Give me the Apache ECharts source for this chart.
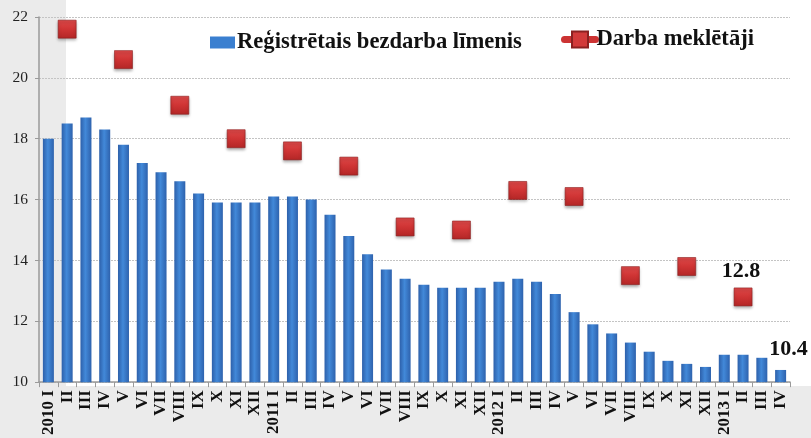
<!DOCTYPE html>
<html>
<head>
<meta charset="utf-8">
<title>Bezdarbs</title>
<script src="https://cdn.jsdelivr.net/npm/echarts@6/dist/echarts.min.js"></script>
<style>
	html, body { margin: 0; padding: 0; background: #fff; }
	#container { width: 811px; height: 438px; }
</style>
</head>
<body>
<div id="container"></div>
<script>
var categories = ['2010 I', 'II', 'III', 'IV', 'V', 'VI', 'VII', 'VIII', 'IX', 'X', 'XI', 'XII',
	'2011 I', 'II', 'III', 'IV', 'V', 'VI', 'VII', 'VIII', 'IX', 'X', 'XI', 'XII',
	'2012 I', 'II', 'III', 'IV', 'V', 'VI', 'VII', 'VIII', 'IX', 'X', 'XI', 'XII',
	'2013 I', 'II', 'III', 'IV'];
// registretais bezdarba limenis, %
var bezdarbs = [18.0, 18.5, 18.7, 18.3, 17.8, 17.2, 16.9, 16.6, 16.2, 15.9, 15.9, 15.9,
	16.1, 16.1, 16.0, 15.5, 14.8, 14.2, 13.7, 13.4, 13.2, 13.1, 13.1, 13.1,
	13.3, 13.4, 13.3, 12.9, 12.3, 11.9, 11.6, 11.3, 11.0, 10.7, 10.6, 10.5,
	10.9, 10.9, 10.8, 10.4];
// darba meklētāji (ceturkšņa vidus)
var meklesana = [null, 21.6, null, null, 20.6, null, null, 19.1, null, null, 18.0, null,
	null, 17.6, null, null, 17.1, null, null, 15.1, null, null, 15.0, null,
	null, 16.3, null, null, 16.1, null, null, 13.5, null, null, 13.8, null,
	null, 12.8, null, null];
var yTicks = [10, 12, 14, 16, 18, 20, 22];
var seriesNames = ['Reģistrētais bezdarba līmenis', 'Darba meklētāji'];

function lastIndex(arr) {
	for (var i = arr.length - 1; i >= 0; i--) {
		if (arr[i] !== null) return i;
	}
	return -1;
}

function main() {
	var dom = document.getElementById("container");
	var myChart = echarts.init(dom, null, { renderer: 'canvas' });
	var serif = '"Liberation Serif", "DejaVu Serif", serif';
	var lastBar = lastIndex(bezdarbs);
	var lastSq = lastIndex(meklesana);
	var red = '#cc3333';

	var option = {
		animation: false,
		textStyle: { fontFamily: serif },
		graphic: [
			{ type: 'rect', z: -10, silent: true, shape: { x: 0, y: 0, width: 66, height: 438 }, style: { fill: '#ebebeb' } },
			{ type: 'rect', z: -10, silent: true, shape: { x: 0, y: 386, width: 811, height: 52 }, style: { fill: '#ebebeb' } }
		],
		legend: [{
			left: 205,
			top: 26,
			itemWidth: 25,
			itemHeight: 12,
			itemStyle: { color: '#3a7fd0' },
			data: [{ name: seriesNames[0], icon: 'rect' }],
			textStyle: { fontFamily: serif, fontSize: 22.6, fontWeight: 'bold', color: '#111', padding: [0, 0, 0, -3] }
		}, {
			left: 556,
			top: 23,
			itemWidth: 31,
			itemHeight: 20,
			lineStyle: { color: red, width: 7, cap: 'round' },
			itemStyle: { color: '#d23a3a' },
			data: [seriesNames[1]],
			textStyle: { fontFamily: serif, fontSize: 22.6, fontWeight: 'bold', color: '#111', padding: [0, 0, 0, -4] }
		}],
		grid: {
			left: 39,
			right: 21,
			top: 17,
			bottom: 55,
			containLabel: false
		},
		xAxis: {
			type: 'category',
			data: categories,
			axisLine: { lineStyle: { color: '#9a9a9a', width: 1.5 } },
			axisTick: { show: true, length: 5, lineStyle: { color: '#9a9a9a' } },
			axisLabel: {
				interval: 0,
				rotate: 90,
				margin: 8,
				fontFamily: serif,
				fontSize: 17,
				fontWeight: 'bold',
				color: '#111'
			}
		},
		yAxis: {
			type: 'value',
			min: yTicks[0],
			max: yTicks[yTicks.length - 1],
			interval: yTicks[1] - yTicks[0],
			axisLine: { show: true, lineStyle: { color: '#9a9a9a', width: 1.5 } },
			axisTick: { show: true, length: 4, lineStyle: { color: '#9a9a9a' } },
			axisLabel: { fontFamily: serif, fontSize: 15.5, color: '#222', margin: 11 },
			splitLine: { lineStyle: { color: '#c4c4c4', type: [2, 1] } }
		},
		series: [{
			name: seriesNames[0],
			type: 'bar',
			barWidth: 11,
			itemStyle: {
				color: new echarts.graphic.LinearGradient(0, 0, 1, 0, [
					{ offset: 0, color: '#2d60aa' },
					{ offset: 0.45, color: '#4289d9' },
					{ offset: 1, color: '#2e62ad' }
				])
			},
			label: {
				show: true,
				position: 'top',
				distance: 10,
				offset: [8, 0],
				fontFamily: serif,
				fontSize: 22,
				fontWeight: 'bold',
				color: '#111',
				formatter: function (p) {
					return p.dataIndex === lastBar ? p.value.toFixed(1) : '';
				}
			},
			data: bezdarbs
		}, {
			name: seriesNames[1],
			type: 'line',
			symbol: 'rect',
			symbolSize: 18,
			connectNulls: false,
			lineStyle: { color: red, width: 7, cap: 'round' },
			itemStyle: {
				color: new echarts.graphic.LinearGradient(0, 0, 0, 1, [
					{ offset: 0, color: '#df4a4a' },
					{ offset: 0.5, color: '#cf3434' },
					{ offset: 1, color: '#b32626' }
				]),
				borderColor: '#8c2020',
				borderWidth: 0.6,
				shadowColor: 'rgba(0,0,0,0.35)',
				shadowBlur: 3,
				shadowOffsetY: 2
			},
			label: {
				show: true,
				position: 'top',
				distance: 5,
				offset: [-2, 0],
				fontFamily: serif,
				fontSize: 22,
				fontWeight: 'bold',
				color: '#111',
				formatter: function (p) {
					return p.dataIndex === lastSq ? p.value.toFixed(1) : '';
				}
			},
			data: meklesana
		}]
	};
	myChart.setOption(option, true);
}

main();
</script>
</body>
</html>
